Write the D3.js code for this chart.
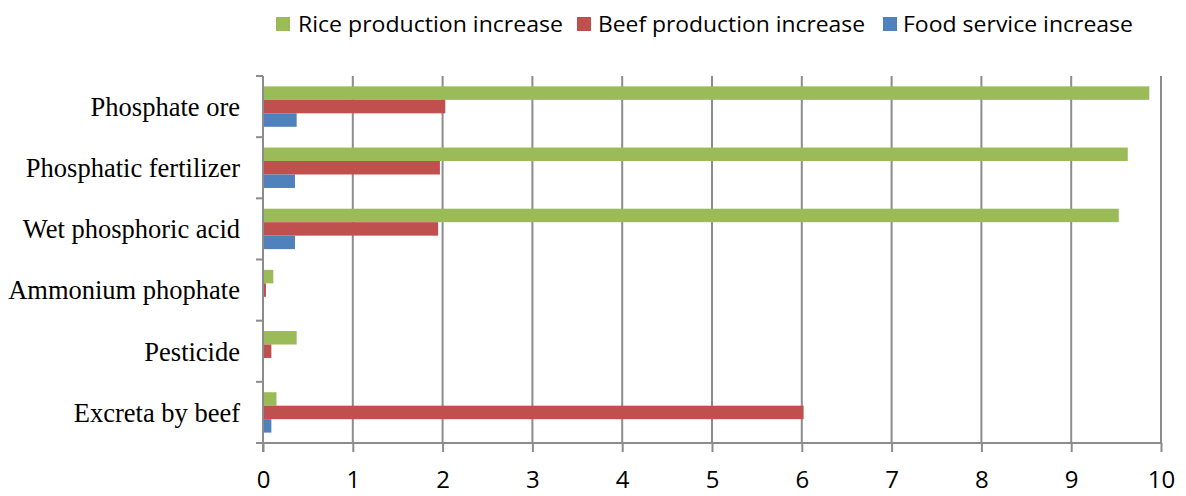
<!doctype html>
<html>
<head>
<meta charset="utf-8">
<title>Bar chart</title>
<style>
  body { margin: 0; background: #fff; }
  svg { display: block; }
</style>
</head>
<body>
<svg width="1186" height="496"></svg>
<script src="https://d3js.org/d3.v7.min.js"></script>
<script>
const categories = ["Phosphate ore", "Phosphatic fertilizer", "Wet phosphoric acid", "Ammonium phophate", "Pesticide", "Excreta by beef"];
const seriesNames = ["Rice production increase", "Beef production increase", "Food service increase"];
const rice = [9.87, 9.63, 9.53, 0.115, 0.375, 0.15];
const beef = [2.03, 1.97, 1.95, 0.033, 0.093, 6.02];
const food = [0.375, 0.356, 0.356, 0.01, 0.01, 0.093];
const xTicks = [0, 1, 2, 3, 4, 5, 6, 7, 8, 9, 10];
const colors = ["#9BBB59", "#C0504D", "#4F81BD"];

const seriesValues = [rice, beef, food];

const svg = d3.select("svg");
const plotLeft = 263, plotRight = 1161, plotTop = 76, plotBottom = 443;

const x = d3.scaleLinear().domain([0, 10]).range([plotLeft, plotRight]);
const y0 = d3.scaleBand().domain(categories).range([plotTop, plotBottom]);
const y1 = d3.scaleBand().domain(seriesNames).range([0, y0.bandwidth()]).paddingOuter(0.77);

// gridlines
svg.append("g")
  .selectAll("line")
  .data(xTicks.slice(1))
  .join("line")
    .attr("x1", d => x(d)).attr("x2", d => x(d))
    .attr("y1", plotTop).attr("y2", plotBottom)
    .attr("stroke", "#8c8c8c")
    .attr("stroke-width", 2);

// bars
const groups = svg.append("g")
  .selectAll("g")
  .data(categories)
  .join("g")
    .attr("transform", d => "translate(0," + y0(d) + ")");

groups.selectAll("rect")
  .data((d, i) => seriesNames.map((s, j) => ({ s: s, v: seriesValues[j][i], c: colors[j] })))
  .join("rect")
    .attr("x", x(0))
    .attr("y", d => y1(d.s))
    .attr("width", d => x(d.v) - x(0))
    .attr("height", y1.bandwidth())
    .attr("fill", d => d.c);

// x axis
const xAxis = svg.append("g")
  .attr("transform", "translate(0," + plotBottom + ")")
  .call(d3.axisBottom(x).tickValues(xTicks).tickSize(9).tickPadding(19).tickSizeOuter(0));
xAxis.select(".domain").remove();
xAxis.append("line")
  .attr("x1", plotLeft - 7).attr("x2", plotRight)
  .attr("stroke", "#8c8c8c").attr("stroke-width", 2);
xAxis.selectAll(".tick line").attr("stroke", "#8c8c8c").attr("stroke-width", 2);
xAxis.selectAll(".tick text")
  .attr("fill", "#000")
  .attr("font-family", "'Open Sans', sans-serif")
  .attr("font-size", "24px");

// y axis
svg.append("line")
  .attr("x1", plotLeft).attr("x2", plotLeft)
  .attr("y1", plotTop).attr("y2", plotBottom + 9)
  .attr("stroke", "#8c8c8c").attr("stroke-width", 2);
svg.append("g")
  .selectAll("line")
  .data(categories)
  .join("line")
    .attr("x1", plotLeft - 7).attr("x2", plotLeft)
    .attr("y1", d => y0(d)).attr("y2", d => y0(d))
    .attr("stroke", "#8c8c8c").attr("stroke-width", 2);

svg.append("g")
  .selectAll("text")
  .data(categories)
  .join("text")
    .attr("x", 240)
    .attr("y", d => y0(d) + y0.bandwidth() / 2)
    .attr("dy", "0.35em")
    .attr("text-anchor", "end")
    .attr("font-family", "'Liberation Serif', 'Times New Roman', serif")
    .attr("font-size", "26.5px")
    .text(d => d);

// legend
const legendSquareX = [276, 577, 883];
const legendTextX = [298, 598, 903];
const legendTextW = [265, 267, 230];
const legend = svg.append("g")
  .selectAll("g")
  .data(seriesNames)
  .join("g");
legend.append("rect")
  .attr("x", (d, i) => legendSquareX[i]).attr("y", 17)
  .attr("width", 14).attr("height", 14)
  .attr("fill", (d, i) => colors[i]);
legend.append("text")
  .attr("x", (d, i) => legendTextX[i]).attr("y", 24)
  .attr("dy", "0.35em")
  .attr("font-family", "'Open Sans', sans-serif")
  .attr("font-size", "22px")
  .attr("textLength", (d, i) => legendTextW[i])
  .attr("lengthAdjust", "spacingAndGlyphs")
  .text(d => d);
</script>
</body>
</html>
